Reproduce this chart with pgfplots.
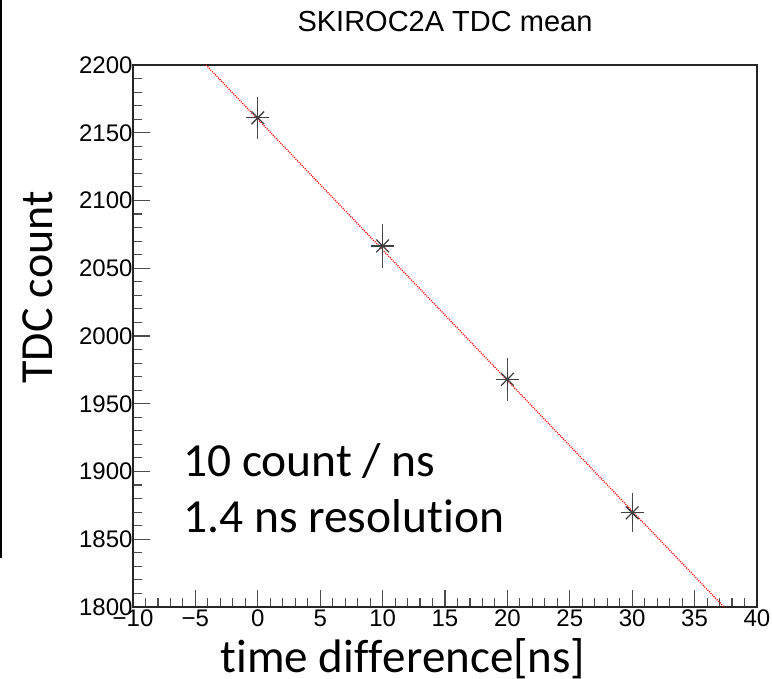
\documentclass[border=0pt]{standalone}
\usepackage{pgfplots}
\pgfplotsset{compat=1.18}
\usepackage{fontspec}
\setmainfont{Liberation Sans}
\newfontfamily\calibri[Ligatures={NoCommon}, RawFeature={-liga;-clig;-dlig}]{Carlito}
\begin{document}
\begin{tikzpicture}
\begin{axis}[
  at={(0pt,0pt)}, anchor=south west,
  scale only axis, width=624pt, height=542pt,
  xmin=-10, xmax=40, ymin=1800, ymax=2200,
  axis line style={black!85, line width=1.1pt},
  tick align=inside, tick pos=left,
  xtick={-10,-5,...,40},
  xticklabels={−10,−5,0,5,10,15,20,25,30,35,40},
  ytick={1800,1850,...,2200},
  yticklabels={1800,1850,1900,1950,2000,2050,2100,2150,2200},
  minor x tick num=4, minor y tick num=4,
  major tick length=17pt, minor tick length=8.5pt,
  every tick/.style={black!70, line width=1.1pt},
  tick label style={font=\fontsize{24}{28}\selectfont},
  yticklabel style={xshift=3pt},
  xticklabel style={yshift=1pt},
]
% fit line
\addplot[red, line width=1.3pt, dash pattern=on 1pt off 1.2pt] coordinates {(-4.15,2200) (37.35,1800)};
% data with error bars
\addplot[black!75, line width=1.3pt, mark=+, mark size=11.5pt, only marks,
  error bars/.cd, y dir=both, y explicit,
  error bar style={black!70, line width=1.1pt},
  error mark options={black!70, line width=1.1pt, mark size=2pt}]
  coordinates {
  (0,2161) +- (0,14)
  (10,2066.5) +- (0,15)
  (20,1968) +- (0,14.4)
  (30,1869.5) +- (0,13)
  };
\addplot[black!75, line width=1.3pt, mark=x, mark size=9pt, only marks]
  coordinates {(0,2161) (10,2066.5) (20,1968) (30,1869.5)};
\end{axis}
% titles and labels
\node[anchor=base, font=\fontsize{29}{34}\selectfont] at (312pt,575pt) {SKIROC2A TDC mean};
\node[anchor=base, rotate=90, font=\calibri\fontsize{46}{54}\selectfont] at (-80pt,319.5pt) {TDC count};
\node[anchor=base, font=\calibri\fontsize{47}{54}\selectfont] at (270pt,-66pt) {time dif\kern0pt f\kern0pt erence[ns]};
\node[anchor=base west, inner sep=0pt, font=\calibri\fontsize{47.5}{54}\selectfont] at (50pt,130pt) {10 count / ns};
\node[anchor=base west, inner sep=0pt, font=\calibri\fontsize{47.5}{54}\selectfont] at (50pt,74pt) {1.4 ns resolut\kern0pt ion};
% left-edge line from the original screenshot
\draw[black, line width=2.5pt] (-131.75pt,49pt) -- (-131.75pt,607pt);
\pgfresetboundingbox
\path (-133pt,-72pt) rectangle (639pt,607pt);
\end{tikzpicture}
\end{document}
